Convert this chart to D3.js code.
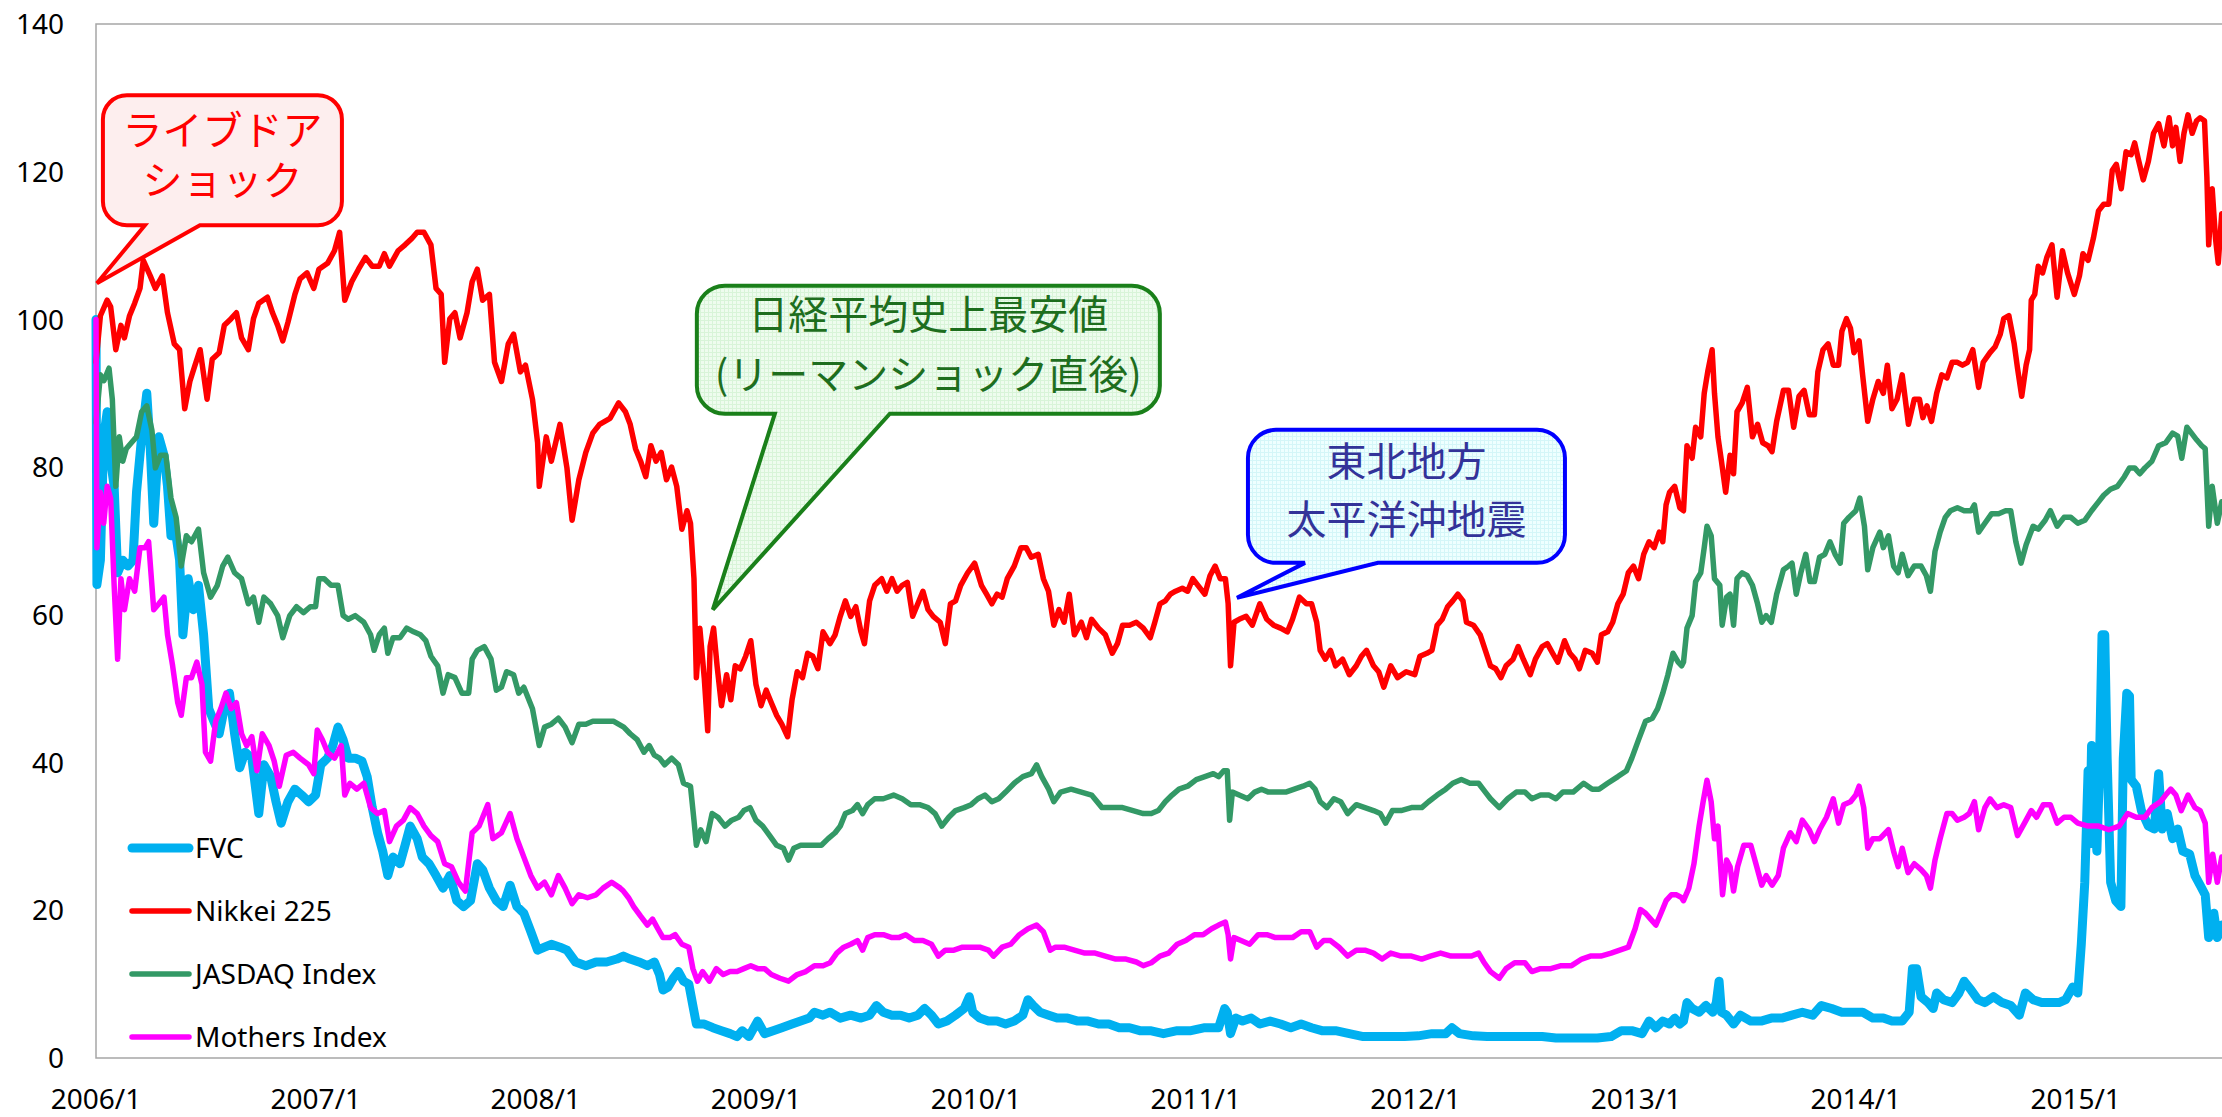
<!DOCTYPE html>
<html>
<head>
<meta charset="utf-8">
<script src="https://cdn.jsdelivr.net/npm/d3@7"></script>
<style>
    html, body { margin: 0; padding: 0; background: #fff; }
    #chart { width: 2222px; height: 1117px; }
</style>
</head>
<body>
<div id="chart"></div>
<script>
// values: [months since 2006/1, index value]
const seriesNames = ['FVC', 'Nikkei 225', 'JASDAQ Index', 'Mothers Index'];
const seriesColors = ['#00B0F0', '#FF0000', '#339966', '#FF00FF'];

const fvc = [[0,100],[0.05,64.1],[0.24,67.4],[0.42,84.1],[0.61,87.5],[0.8,80.8],[0.99,77.4],[1.18,65.7],[1.46,67.4],[1.74,66.6],[2.02,67.4],[2.21,76.6],[2.49,84.1],[2.77,90],[2.96,82.5],[3.15,72.4],[3.43,84.1],[3.71,81.6],[3.9,77.4],[4.09,70.7],[4.27,72.4],[4.56,67.4],[4.74,57.3],[5.03,64.9],[5.31,60.7],[5.59,64],[5.87,57.3],[6.15,47.3],[6.43,45.6],[6.72,43.9],[7,47.3],[7.28,49.4],[7.56,43.9],[7.84,39.3],[8.13,41.4],[8.5,40.6],[8.88,33.1],[9.16,39.7],[9.53,38.1],[9.82,34.7],[10.1,31.8],[10.47,34.7],[10.85,36.4],[11.22,35.6],[11.6,34.7],[11.98,35.6],[12.26,39.7],[12.63,40.6],[12.92,42.3],[13.2,44.8],[13.48,43.1],[13.76,40.6],[14.14,40.6],[14.51,40.2],[14.79,38.1],[15.07,33.9],[15.36,30.5],[15.64,28],[15.92,24.7],[16.2,27.2],[16.58,26.3],[16.86,28.8],[17.14,31.4],[17.52,29.7],[17.8,27.2],[18.17,26.3],[18.55,24.7],[18.93,23],[19.3,24.7],[19.68,21.3],[20.05,20.5],[20.43,21.3],[20.8,26.3],[21.09,25.5],[21.46,23],[21.84,21.3],[22.21,20.5],[22.59,23.4],[22.96,20.5],[23.34,19.6],[23.72,17.1],[24.09,14.6],[24.47,15],[24.84,15.4],[25.31,15],[25.69,14.6],[26.16,13],[26.72,12.5],[27.28,13],[27.85,13],[28.41,13.4],
    [28.77,13.8],[29.14,13.4],[29.61,13],[30.08,12.5],[30.46,13],[30.74,11.3],[30.93,9.2],[31.21,9.6],[31.49,10.8],[31.77,11.7],[32.05,10.4],[32.34,10],[32.56,7.1],[32.75,4.6],[33.18,4.6],[33.65,4.1],[34.12,3.7],[34.59,3.3],[34.97,2.9],[35.25,3.7],[35.62,2.9],[36.09,5],[36.47,3.3],[36.94,3.7],[37.41,4.1],[37.97,4.6],[38.44,5],[38.91,5.4],[39.19,6.2],[39.66,5.8],[40.04,6.2],[40.6,5.4],[41.17,5.8],[41.73,5.4],[42.2,5.8],[42.57,7.1],[42.95,6.2],[43.42,5.8],[43.89,5.8],[44.36,5.4],[44.83,5.8],[45.2,6.7],[45.58,5.8],[45.95,4.6],[46.42,5],[46.89,5.8],[47.36,6.7],[47.64,8.3],[47.83,6.2],[48.21,5.4],[48.68,5],[49.15,5],[49.62,4.6],[50.09,5],[50.56,5.8],[50.84,7.9],[51.12,7.1],[51.5,6.2],[51.97,5.8],[52.43,5.4],[53,5.4],[53.56,5],[54.12,5],[54.69,4.6],[55.25,4.6],[55.82,4.1],[56.38,4.1],[56.94,3.7],[57.51,3.7],
    [58.23,3.3],[58.98,3.7],[59.73,3.7],[60.49,4.1],[61.24,4.1],[61.57,6.7],[61.71,6.2],[61.89,3.3],[62.18,5.4],[62.55,5],[63.02,5.4],[63.49,4.6],[64.05,5],[64.62,4.6],[65.18,4.1],[65.74,4.6],[66.31,4.1],[66.87,3.7],[67.62,3.7],[68.37,3.3],[69.13,2.9],[69.88,2.9],[70.63,2.9],[71.38,2.9],[72.13,3],[72.88,3.3],[73.63,3.3],[73.97,4.1],[74.38,3.3],[75.14,3],[75.89,2.9],[76.64,2.9],[77.39,2.9],[78.14,2.9],[78.89,2.9],[79.64,2.7],[80.4,2.7],[81.15,2.7],[81.9,2.7],[82.65,2.9],[83.21,3.7],[83.78,3.7],[84.34,3.3],[84.72,5],[85.09,4.1],[85.47,5],[85.84,4.6],[86.12,5.4],[86.4,4.6],
    [86.6,5],[86.79,7.5],[87.07,6.7],[87.45,6.2],[87.82,7.1],[88.2,6.2],[88.39,7.5],[88.54,10.4],[88.67,6.2],[88.95,5.8],[89.33,4.6],[89.7,5.8],[90.27,5],[90.83,5],[91.39,5.4],[91.96,5.4],[92.52,5.8],[93.08,6.2],[93.65,5.8],[94.12,7.1],[94.68,6.7],[95.24,6.2],[95.81,6.2],[96.37,6.2],[96.93,5.4],[97.5,5.4],[97.97,5],[98.53,5],[98.91,6.2],[99.09,12.1],[99.32,12.1],[99.56,8.3],[99.94,7.5],[100.22,6.7],[100.41,8.8],[100.79,7.9],[101.25,7.5],[101.63,8.8],[101.91,10.4],[102.29,9.2],[102.66,7.9],[103.04,7.5],[103.51,8.3],[103.98,7.5],[104.45,7.1],[104.92,5.8],[105.25,8.8],[105.67,7.9],[106.14,7.5],[106.61,7.5],[107.08,7.5],[107.45,7.9],[107.83,9.6],[108.11,8.8],[108.3,15.4],[108.49,23.8],[108.67,38.9],[108.76,29],[108.86,42.3],[108.95,30],[109.05,32.2],[109.15,28],[109.27,37.2],[109.43,57.3],[109.58,57.3],[109.71,40.6],[109.9,23.8],[110.18,21.3],[110.46,20.5],[110.59,40.6],[110.78,49.4],[110.93,49],[111.02,37.7],[111.3,36.8],[111.58,33.5],[111.96,31.4],[112.28,31],[112.52,38.5],[112.71,31],[112.99,33.1],[113.28,29.7],[113.56,31],[113.84,28],[114.21,27.6],[114.5,24.7],[114.78,23.4],[115.06,22.1],[115.25,16.3],[115.53,19.6],[115.72,16.3],[115.96,18]];

const nikkei = [[0,94.2],[0.24,100.5],[0.61,102.6],[0.8,101.7],[1.08,95.9],[1.36,99.2],[1.55,97.5],[1.83,100.5],[2.11,102.2],[2.4,104.2],[2.58,108],[2.96,105.9],[3.24,104.2],[3.62,105.9],[3.9,100.9],[4.27,96.7],[4.56,95.9],[4.84,87.9],[5.12,91.6],[5.4,93.8],[5.68,95.9],[6.06,89.2],[6.34,94.6],[6.72,95.5],[7,99.2],[7.37,100.1],[7.66,100.9],[7.94,97.5],[8.31,95.9],[8.59,100.1],[8.88,102.2],[9.35,103],[9.63,100.9],[9.91,99.2],[10.19,97.1],[10.47,99.6],[10.85,103.4],[11.13,105.5],[11.51,106.3],[11.88,104.2],[12.16,106.8],[12.63,107.6],[13.01,109.3],[13.29,111.8],[13.57,102.6],[13.95,105.1],[14.32,106.8],[14.7,108.4],[15.07,107.2],[15.45,107.2],[15.73,108.9],[16.01,107.2],[16.48,109.3],[16.86,110.1],[17.24,111],[17.52,111.8],[17.89,111.8],[18.27,110.1],[18.55,104.2],[18.83,103.4],[19.02,94.2],[19.3,100.1],[19.58,100.9],[19.86,97.5],[20.24,100.9],[20.52,105.1],[20.8,106.8],[21.09,102.6],[21.46,103.4],[21.74,94.2],[22.12,91.6],[22.49,96.7],[22.78,98],[23.15,92.9],[23.43,93.8],[23.81,89.2],[24.09,83.3],[24.18,77.4],[24.56,84.1],[24.84,80.8],[25.31,85.8],[25.69,79.9],[25.97,72.8],[26.34,78.3],[26.72,82],[27.1,84.6],[27.47,85.8],[28.04,86.6],[28.51,88.7],[28.88,87.5],
    [29.14,85.8],[29.43,82.5],[29.71,80.8],[29.99,78.7],[30.27,82.9],[30.55,80.8],[30.83,82],[31.12,78.3],[31.4,80],[31.68,77.4],[31.96,71.6],[32.24,74.1],[32.43,72.4],[32.62,64.9],[32.75,51.5],[32.94,58.2],[33.18,51.5],[33.37,44.3],[33.5,55.7],[33.69,58.2],[33.88,53.1],[34.12,47.7],[34.4,51.9],[34.63,48.5],[34.87,53.1],[35.15,52.7],[35.44,54.4],[35.72,56.5],[36,50.6],[36.28,47.7],[36.56,49.8],[36.84,48.1],[37.13,46.4],[37.41,45.2],[37.73,43.5],[37.97,48.5],[38.25,52.3],[38.54,51.5],[38.82,54.8],[39.1,54.4],[39.38,52.7],[39.66,57.7],[40.04,56.1],[40.32,57.3],[40.6,59.8],[40.88,61.9],[41.17,59.8],[41.45,61.1],[41.73,57.7],[41.92,56.1],[42.2,61.9],[42.48,64],[42.86,64.9],[43.14,63.2],[43.42,64.9],[43.7,63.2],[43.98,64],[44.26,64.4],[44.55,59.8],[44.83,61.5],[45.11,63.2],[45.39,60.7],[45.67,59.8],[46.05,59],[46.33,56.1],[46.61,61.5],[46.89,61.9],[47.17,64],[47.55,65.7],[47.93,67],[48.3,64],[48.58,62.8],[48.87,61.5],[49.15,62.8],[49.43,62.4],[49.71,64.9],[50.09,66.6],[50.46,69.1],[50.74,69.1],[51.02,67.8],[51.4,68.2],[51.68,64.9],[51.96,63.2],[52.25,58.6],[52.53,60.7],[52.81,59],[53.09,62.8],[53.37,57.3],[53.75,59],[54.03,56.9],[54.31,59.4],[54.69,58.2],[55.06,57.3],[55.44,54.8],[55.72,56.1],[56,58.6],[56.38,58.6],[56.75,59],[57.13,58.2],[57.51,56.9],
    [57.76,59],[58.04,61.5],[58.33,61.9],[58.61,62.8],[58.89,63.2],[59.26,63.6],[59.55,63.2],[59.83,64.9],[60.11,64],[60.49,62.8],[60.77,65.3],[61.05,66.6],[61.33,64.9],[61.61,64.9],[61.76,61.5],[61.89,53.1],[62.08,59],[62.36,59.4],[62.74,59.8],[63.08,58.6],[63.49,61.5],[63.87,59.4],[64.24,58.6],[64.62,58.2],[64.99,57.7],[65.27,59.4],[65.65,62.4],[66.03,61.5],[66.31,61.5],[66.59,59],[66.78,55.2],[67.06,54],[67.34,55.2],[67.62,53.1],[68,54],[68.37,51.9],[68.75,53.1],[69.03,54.4],[69.31,55.2],[69.69,53.1],[69.97,52.3],[70.25,50.2],[70.63,53.1],[71,51.5],[71.47,52.3],[71.94,51.9],[72.22,54.4],[72.6,54.8],[72.88,55.2],[73.16,58.6],[73.44,59.4],[73.73,61.1],[74.01,61.9],[74.29,62.8],[74.57,61.9],[74.76,59],[75.14,58.6],[75.51,57.3],[75.79,55.2],[76.07,53.1],[76.36,52.7],[76.64,51.5],[76.92,53.1],[77.3,54],[77.58,55.7],[77.86,54],[78.24,51.9],[78.52,54],[78.89,55.7],[79.17,56.1],[79.46,54.8],[79.74,53.6],[80.11,56.5],[80.4,54.8],[80.68,54],[80.92,52.7],[81.24,55.2],[81.62,54.8],[81.9,53.6],[82.12,57.3],[82.46,57.7],[82.74,59],[83.02,61.5],[83.31,62.8],[83.59,65.7],[83.87,66.6],[84.15,64.9],[84.43,68.2],[84.72,69.9],[85,69.1],[85.28,71.2],[85.47,69.9],[85.65,74.9],[85.84,76.6],[86.12,77.4],[86.4,74.5],
    [86.6,74.1],[86.79,82.9],[87.07,81.2],[87.26,85.4],[87.54,84.1],[87.73,90],[87.92,92.9],[88.16,95.9],[88.29,90],[88.48,84.1],[88.67,80.8],[88.9,76.6],[89.14,81.6],[89.33,79.1],[89.52,87.5],[89.8,88.7],[90.08,90.8],[90.36,84.1],[90.64,85.8],[90.92,83.3],[91.21,82.9],[91.43,82.1],[91.68,86.2],[92.05,90.4],[92.33,90.4],[92.61,85.4],[92.9,89.6],[93.18,90.4],[93.46,87.1],[93.74,87.1],[93.93,92.9],[94.21,95.9],[94.49,96.7],[94.77,93.8],[95.06,93.8],[95.24,98.4],[95.49,100.1],[95.71,98.8],[95.9,95.5],[96.18,97.1],[96.37,92.5],[96.65,86.2],[96.93,89.2],[97.22,91.6],[97.5,90],[97.72,93.8],[97.97,87.9],[98.25,89.2],[98.53,92.5],[98.87,85.8],[99.19,89.2],[99.47,89.2],[99.66,86.7],[99.88,88.3],[100.13,86.2],[100.41,90],[100.69,92.5],[100.97,92.1],[101.25,94.2],[101.54,94.2],[101.82,93.8],[102.1,94.2],[102.38,95.9],[102.7,90.8],[102.95,94.2],[103.32,95.5],[103.6,96.3],[103.88,98],[104.07,100.1],[104.35,100.5],[104.64,96.7],[104.82,93.4],[105.05,89.6],[105.29,93.8],[105.48,95.9],[105.57,102.6],[105.76,103.4],[105.95,107.2],[106.19,106.3],[106.42,108.4],[106.7,110.1],[106.98,103],[107.27,109.3],[107.55,106.3],[107.92,103.4],[108.2,105.9],[108.39,108.9],[108.67,108],[108.96,111],[109.24,114.7],[109.52,115.6],[109.8,115.6],[109.99,120.2],[110.21,121],[110.48,117.7],[110.74,122.7],[111.02,122.3],[111.21,123.9],[111.4,121.8],[111.68,118.9],[111.96,121.4],[112.24,125.2],[112.52,126.5],[112.81,123.5],[113.09,127.3],[113.28,123.5],[113.46,126],[113.69,121.4],[113.9,125.2],[114.12,127.7],[114.35,125.2],[114.59,126.9],[114.78,127.3],[115.02,126.9],[115.15,119.3],[115.25,110.1],[115.44,117.7],[115.62,111],[115.77,107.6],[115.96,114.3]];

const jasdaq = [[0,86],[0.24,92.5],[0.43,91.7],[0.71,93.4],[0.89,89.2],[1.08,77.4],[1.27,84.1],[1.46,80.8],[1.65,82.5],[1.93,83.3],[2.21,84.1],[2.49,87.5],[2.77,88.3],[3.05,85],[3.24,79.9],[3.52,81.6],[3.81,81.6],[4.09,75.8],[4.37,73.2],[4.65,66.6],[4.93,70.7],[5.21,69.9],[5.59,71.6],[5.87,65.7],[6.25,62.4],[6.62,64],[6.91,66.6],[7.19,67.8],[7.56,65.7],[7.94,64.9],[8.31,61.5],[8.59,62.4],[8.88,59],[9.16,62.4],[9.53,61.5],[9.91,59.9],[10.19,56.9],[10.57,59.9],[10.94,61.1],[11.32,60.3],[11.69,61.1],[11.98,61.1],[12.16,64.9],[12.45,64.9],[12.82,64],[13.2,64],[13.48,59.9],[13.76,59.4],[14.14,59.9],[14.61,59],[14.98,57.3],[15.17,55.2],[15.45,57.3],[15.73,58.2],[15.92,54.8],[16.2,56.9],[16.58,56.9],[16.95,58.2],[17.33,57.7],[17.7,57.3],[17.99,56.5],[18.27,54.4],[18.64,53.1],[18.93,49.4],[19.21,51.9],[19.58,51.5],[19.96,49.4],[20.33,49.4],[20.52,54],[20.8,55.2],[21.18,55.7],[21.55,54],[21.84,49.8],[22.12,50.2],[22.4,52.3],[22.78,51.9],[23.06,49.4],[23.34,50.2],[23.81,47.3],[24.18,42.3],[24.47,44.8],[24.84,45.2],[25.22,46],[25.59,44.8],[25.97,42.7],[26.34,45.2],[26.72,45.2],[27.1,45.6],[27.66,45.6],[28.22,45.6],[28.79,44.8],
    [29.14,43.9],[29.52,43.1],[29.89,41.4],[30.18,42.3],[30.46,41],[30.74,40.6],[31.02,39.7],[31.4,40.6],[31.77,39.7],[32.05,37.2],[32.43,36.8],[32.62,32.2],[32.75,28.8],[32.99,30.9],[33.28,29.3],[33.61,33.1],[33.93,32.6],[34.31,31.4],[34.68,32.2],[35.06,32.6],[35.34,33.5],[35.68,33.9],[36,32.2],[36.37,31.4],[36.75,30.1],[37.13,28.8],[37.5,28.4],[37.78,26.8],[38.07,28.4],[38.44,28.8],[38.82,28.8],[39.19,28.8],[39.57,28.8],[39.94,29.7],[40.32,30.5],[40.6,31.4],[40.88,33.1],[41.26,33.5],[41.54,34.3],[41.82,33.1],[42.1,34.3],[42.48,35.1],[42.95,35.1],[43.51,35.6],[43.98,35.1],[44.45,34.3],[44.92,34.3],[45.39,33.9],[45.77,33.1],[46.14,31.4],[46.52,32.6],[46.89,33.5],[47.36,33.9],[47.74,34.3],[48.11,35.1],[48.49,35.6],[48.87,34.7],[49.24,35.1],[49.62,36],[50.09,37.2],[50.56,38.1],[51.03,38.5],[51.31,39.7],[51.59,38.1],[51.97,36.4],[52.25,34.7],[52.62,36],[53.19,36.4],[53.75,36],[54.31,35.6],[54.88,33.9],[55.44,33.9],[56,33.9],[56.57,33.5],[57.13,33.1],
    [57.57,33.1],[57.95,33.5],[58.33,34.7],[58.7,35.6],[59.08,36.4],[59.55,36.8],[60.02,37.7],[60.49,38.1],[60.95,38.5],[61.24,38.1],[61.52,38.9],[61.71,38.9],[61.84,32.2],[61.99,36],[62.36,35.6],[62.83,35.1],[63.21,36],[63.58,36.4],[63.96,36],[64.43,36],[64.9,36],[65.37,36.4],[65.84,36.8],[66.21,37.2],[66.5,36.4],[66.78,34.7],[67.15,33.9],[67.53,35.1],[67.9,34.7],[68.28,33.1],[68.75,34.3],[69.22,33.9],[69.69,33.5],[70.06,33.1],[70.35,31.8],[70.72,33.5],[71.19,33.5],[71.76,33.9],[72.32,33.9],[72.69,34.7],[73.16,35.6],[73.63,36.4],[74.01,37.2],[74.48,37.7],[74.95,37.2],[75.42,37.2],[75.79,36],[76.07,35.1],[76.55,33.9],[77.01,35.1],[77.48,36],[77.95,36],[78.33,35.1],[78.8,35.6],[79.27,35.6],[79.64,35.1],[80.02,36],[80.58,36],[81.15,37.2],[81.62,36.4],[81.99,36.4],[82.46,37.2],[83.02,38.1],[83.49,38.9],[83.78,40.6],[84.15,43.1],[84.53,45.6],[84.9,46],[85.19,47.3],[85.47,49.4],[85.75,51.9],[86.03,54.8],[86.31,53.6],[86.5,53.1],
    [86.6,53.6],[86.79,58.2],[87.07,59.9],[87.26,64.5],[87.54,65.7],[87.73,69.1],[87.88,72],[88.11,70.7],[88.29,64.9],[88.58,64],[88.71,58.6],[88.95,62.4],[89.14,62.8],[89.33,58.6],[89.52,64.9],[89.8,65.7],[90.08,65.3],[90.36,64],[90.64,61.5],[90.87,59],[91.11,59.9],[91.39,59],[91.68,62.8],[92.05,66.1],[92.33,66.6],[92.52,67],[92.75,62.8],[93,65.7],[93.27,68.2],[93.5,64.5],[93.74,64.5],[94.02,67.8],[94.31,68.2],[94.59,69.9],[94.87,68.2],[95.15,67],[95.34,72.4],[95.62,73.2],[96,74.1],[96.22,75.8],[96.47,72],[96.65,66.1],[96.93,69.1],[97.31,71.2],[97.5,69.1],[97.78,70.7],[98.06,66.6],[98.31,65.7],[98.53,68.2],[98.85,65.3],[99.19,66.6],[99.56,66.6],[99.85,65.3],[100.07,63.2],[100.32,68.6],[100.6,71.2],[100.88,73.2],[101.16,74.1],[101.54,74.5],[101.91,74.1],[102.29,74.1],[102.47,74.9],[102.7,71.2],[103.04,72.4],[103.41,73.7],[103.79,73.7],[104.17,74.1],[104.45,74.1],[104.73,69.9],[105.01,67],[105.29,69.5],[105.67,72],[105.95,71.6],[106.33,72.8],[106.61,74.1],[106.98,72],[107.36,73.2],[107.73,73.2],[108.11,72.4],[108.49,72.8],[108.86,74.1],[109.24,75.3],[109.52,76.2],[109.89,77],[110.27,77.4],[110.65,78.7],[110.93,79.9],[111.21,79.9],[111.49,79.1],[111.77,79.9],[112.15,80.8],[112.52,82.9],[112.9,83.3],[113.28,84.6],[113.56,84.2],[113.78,81.2],[114.06,85.4],[114.31,84.6],[114.59,83.7],[114.87,82.9],[115.06,82.5],[115.25,72],[115.44,77.4],[115.72,72.4],[115.96,75.3]];

const mothers = [[0,100],[0.05,69.1],[0.24,76.6],[0.42,72.4],[0.61,77.4],[0.8,75.8],[0.99,64],[1.18,54],[1.36,64.9],[1.55,60.7],[1.83,64.9],[2.11,63.2],[2.4,69.1],[2.68,69.1],[2.87,69.9],[3.15,60.7],[3.43,61.5],[3.71,62.4],[3.9,57.3],[4.18,53.1],[4.46,48.1],[4.65,46.4],[4.93,51.5],[5.21,51.5],[5.5,53.6],[5.78,50.6],[5.97,41.4],[6.25,40.2],[6.53,45.6],[6.81,47.3],[7.09,49.4],[7.37,47.3],[7.66,48.1],[7.94,43.9],[8.22,42.3],[8.5,43.5],[8.78,38.9],[9.07,43.9],[9.44,42.3],[9.72,40.2],[10,36.8],[10.38,41],[10.76,41.4],[11.13,40.6],[11.6,39.7],[11.88,38.5],[12.07,44.4],[12.35,43.1],[12.63,41.4],[13.01,40.6],[13.38,42.3],[13.57,35.6],[13.85,37.2],[14.23,36.4],[14.61,37.2],[14.98,33.9],[15.36,33.1],[15.73,33.5],[16.01,29.3],[16.39,31.4],[16.77,32.2],[17.14,33.9],[17.52,33.1],[17.89,31.4],[18.27,30.1],[18.64,29.3],[19.02,26.3],[19.39,25.9],[19.77,23.8],[20.15,22.6],[20.52,30.5],[20.9,31.4],[21.37,34.3],[21.65,29.7],[22.12,30.5],[22.59,33.1],[22.96,29.7],[23.34,27.2],[23.72,24.7],[24.09,23],[24.47,23.8],[24.84,22.1],[25.22,24.7],[25.59,23],[25.97,20.9],[26.34,22.1],[26.81,21.7],[27.28,22.1],[27.66,23],[28.13,23.8],[28.6,23],
    [28.77,22.6],[29.05,21.7],[29.33,20.5],[29.71,19.2],[30.08,18],[30.36,18.8],[30.65,17.5],[30.93,16.3],[31.3,16.3],[31.59,16.7],[31.96,15.4],[32.34,15],[32.56,12.1],[32.81,10.4],[33.09,11.7],[33.46,10.4],[33.84,12.1],[34.22,11.3],[34.59,11.7],[34.97,11.7],[35.34,12.1],[35.72,12.5],[36.09,12.1],[36.47,12.1],[36.84,11.3],[37.31,10.8],[37.78,10.4],[38.25,11.3],[38.72,11.7],[39.19,12.5],[39.66,12.5],[40.04,12.9],[40.41,14.2],[40.79,15],[41.17,15.4],[41.54,15.9],[41.82,14.6],[42.1,16.3],[42.48,16.7],[42.95,16.7],[43.42,16.3],[43.79,16.3],[44.17,16.7],[44.64,15.9],[45.11,15.9],[45.58,15.4],[45.95,13.8],[46.33,14.6],[46.8,14.6],[47.27,15],[47.74,15],[48.21,15],[48.68,14.6],[48.96,13.8],[49.43,15],[49.9,15.4],[50.37,16.7],[50.84,17.5],[51.31,18],[51.68,17.1],[52.06,14.6],[52.34,15],[52.81,15],[53.37,14.6],[53.94,14.2],[54.5,14.2],[55.06,13.8],[55.63,13.4],[56.19,13.4],[56.75,13],[57.13,12.5],
    [57.57,12.9],[58.04,13.8],[58.51,14.2],[58.98,15.4],[59.45,15.9],[59.92,16.7],[60.39,16.7],[60.86,17.5],[61.24,18],[61.61,18.4],[61.76,16.7],[61.89,13.4],[62.08,16.3],[62.46,15.9],[62.93,15.4],[63.4,16.7],[63.87,16.7],[64.34,16.3],[64.81,16.3],[65.27,16.3],[65.74,17.1],[66.21,17.1],[66.59,15],[66.97,15.9],[67.34,15.9],[67.81,15],[68.28,13.8],[68.75,14.6],[69.22,14.6],[69.69,14.2],[70.16,13.4],[70.63,14.2],[71.19,13.8],[71.76,13.8],[72.32,13.4],[72.79,13.8],[73.35,14.2],[73.92,13.8],[74.48,13.8],[75.04,13.8],[75.42,14.2],[75.7,13],[76.07,11.7],[76.55,10.8],[76.92,12.1],[77.39,12.9],[77.95,12.9],[78.33,11.7],[78.8,12.1],[79.36,12.1],[79.93,12.5],[80.49,12.5],[81.05,13.4],[81.52,13.8],[82.09,13.8],[82.65,14.2],[83.12,14.6],[83.59,15],[83.96,17.5],[84.25,20.1],[84.53,19.6],[84.81,18.8],[85.09,18],[85.37,19.6],[85.65,21.3],[85.94,22.1],[86.22,22.1],[86.5,21.7],
    [86.6,21.3],[86.89,23],[87.17,26.3],[87.45,31.4],[87.67,34.7],[87.88,37.6],[88.11,34.7],[88.29,29.7],[88.48,31.4],[88.73,22.1],[88.95,26.8],[89.14,25.9],[89.33,22.6],[89.55,25.9],[89.89,28.8],[90.27,28.8],[90.55,26.3],[90.87,23.4],[91.11,24.7],[91.43,23.4],[91.77,24.7],[92.05,28.4],[92.43,30.5],[92.75,29.3],[93.08,32.2],[93.46,30.9],[93.74,29.3],[94.02,30.9],[94.4,32.6],[94.77,35.1],[95.06,31.8],[95.34,34.3],[95.71,34.7],[96,35.6],[96.18,36.8],[96.43,33.9],[96.65,28.4],[96.93,29.7],[97.31,29.7],[97.78,30.9],[98.06,28],[98.31,25.9],[98.53,28.4],[98.85,25.1],[99.19,26.3],[99.56,25.5],[99.85,24.7],[100.07,23],[100.32,26.8],[100.6,29.7],[100.97,33.1],[101.25,33.1],[101.54,32.2],[101.91,32.6],[102.19,33.1],[102.47,34.7],[102.7,30.9],[103.04,33.9],[103.32,35.1],[103.7,33.9],[104.07,34.3],[104.45,33.9],[104.82,30.1],[105.2,31.8],[105.57,33.5],[105.86,32.6],[106.23,34.3],[106.61,34.3],[106.98,31.8],[107.36,32.6],[107.73,32.6],[108.11,31.8],[108.67,31.4],[109.24,31.4],[109.8,30.9],[110.37,31.4],[110.83,33.1],[111.3,32.6],[111.77,32.6],[112.15,33.9],[112.62,34.7],[112.9,35.6],[113.18,36.4],[113.46,35.6],[113.75,33.5],[114.12,35.6],[114.5,33.9],[114.78,33.5],[115.06,31.8],[115.25,23.8],[115.47,27.6],[115.72,23.8],[115.96,27.2]];

const yTicks = [0, 20, 40, 60, 80, 100, 120, 140];
const xTickYears = [2006, 2007, 2008, 2009, 2010, 2011, 2012, 2013, 2014, 2015];

// callout texts and the point each one points at [months, value]
const calloutTexts = [['ライブドア', 'ショック'], ['日経平均史上最安値', '(リーマンショック直後)'], ['東北地方', '太平洋沖地震']];
const calloutAnchors = [[0.05, 104.9], [33.65, 60.7], [62.24, 62.3]];

class IndexChart {

    constructor(parentElement) {
        this.parentElement = d3.select(parentElement);
        this.width = 2222;
        this.height = 1117;
        this.plot = { left: 96, right: 2222, top: 24, bottom: 1058 };
        this.render();
    }

    monthToDate(m) {
        return new Date(new Date(2006, 0, 1).getTime() + m * 30.4375 * 864e5);
    }

    render() {
        const svg = this.parentElement.append('svg')
            .attr('width', this.width)
            .attr('height', this.height)
            .style('background', '#fff');

        const x = d3.scaleTime()
            .domain([new Date(2006, 0, 1), new Date(2015, 8, 1)])
            .range([this.plot.left, this.plot.right]);
        const y = d3.scaleLinear()
            .domain([0, 140])
            .range([this.plot.bottom, this.plot.top]);

        const defs = svg.append('defs');
        const grid = (id, base, lineColor) => {
            const p = defs.append('pattern')
                .attr('id', id)
                .attr('width', 4).attr('height', 4)
                .attr('patternUnits', 'userSpaceOnUse');
            p.append('rect').attr('width', 4).attr('height', 4).attr('fill', base);
            p.append('path').attr('d', 'M0,0.5H4M0.5,0V4')
                .attr('stroke', lineColor).attr('stroke-width', 1);
        };
        grid('gridGreen', '#EEFCEE', '#D8F4D8');
        grid('gridBlue', '#EEFFFF', '#D4F6F8');

        // plot frame (left, top, bottom)
        svg.append('path')
            .attr('d', `M${this.plot.right},${this.plot.top}H${this.plot.left}V${this.plot.bottom}H${this.plot.right}`)
            .attr('fill', 'none')
            .attr('stroke', '#A6A6A6')
            .attr('stroke-width', 1.5);

        const tickFont = '"Noto Sans", "Open Sans", sans-serif';

        svg.append('g')
            .attr('class', 'y-labels')
            .selectAll('text')
            .data(yTicks)
            .enter().append('text')
            .attr('x', 64)
            .attr('y', d => y(d))
            .attr('dy', '0.36em')
            .attr('text-anchor', 'end')
            .style('font-family', tickFont)
            .style('font-size', '28px')
            .style('fill', '#000')
            .text(d => d);

        svg.append('g')
            .attr('class', 'x-labels')
            .selectAll('text')
            .data(xTickYears.map(yr => new Date(yr, 0, 1)))
            .enter().append('text')
            .attr('x', d => x(d))
            .attr('y', 1099)
            .attr('dy', '0.36em')
            .attr('text-anchor', 'middle')
            .style('font-family', tickFont)
            .style('font-size', '28px')
            .style('fill', '#000')
            .text(d => d.getFullYear() + '/' + (d.getMonth() + 1));

        const line = d3.line()
            .x(d => x(this.monthToDate(d[0])))
            .y(d => y(d[1]));

        const allSeries = [fvc, nikkei, jasdaq, mothers];
        const widths = [9, 5.5, 5.5, 5.5];

        svg.append('g')
            .attr('class', 'lines')
            .selectAll('path')
            .data(allSeries)
            .enter().append('path')
            .attr('d', d => line(d))
            .attr('fill', 'none')
            .attr('stroke', (d, i) => seriesColors[i])
            .attr('stroke-width', (d, i) => widths[i])
            .attr('stroke-linejoin', 'round')
            .attr('stroke-linecap', 'round');

        // legend
        const legend = svg.append('g')
            .attr('class', 'legend')
            .selectAll('g')
            .data(seriesNames)
            .enter().append('g')
            .attr('transform', (d, i) => `translate(0, ${848 + i * 63})`);

        legend.append('line')
            .attr('x1', 132).attr('x2', 189)
            .attr('stroke', (d, i) => seriesColors[i])
            .attr('stroke-width', (d, i) => widths[i])
            .attr('stroke-linecap', 'round');

        legend.append('text')
            .attr('x', 195)
            .attr('dy', '0.36em')
            .style('font-family', tickFont)
            .style('font-size', '28px')
            .style('fill', '#000')
            .text(d => d);

        // callouts: box and tail offsets are relative to the tip
        const calloutStyle = [
            { box: [6, 245, -188, -58], tail: [48, 103], lines: [-153, -103], r: 24,
              stroke: '#FF0000', fill: '#FDEEEE', color: '#FF0000' },
            { box: [-16, 447, -324, -196], tail: [62, 177], lines: [-295, -235], r: 28,
              stroke: '#1A801A', fill: 'url(#gridGreen)', color: '#1E6E1E' },
            { box: [11, 328, -168, -35], tail: [68, 141], lines: [-136, -78], r: 28,
              stroke: '#0000FF', fill: 'url(#gridBlue)', color: '#333399' },
        ];

        const calloutPath = (tx, ty, s) => {
            const [bx0, bx1, by0, by1] = s.box;
            const x0 = tx + bx0, x1 = tx + bx1, y0 = ty + by0, y1 = ty + by1;
            const r = s.r;
            return `M${x0 + r},${y0}H${x1 - r}A${r},${r} 0 0 1 ${x1},${y0 + r}` +
                `V${y1 - r}A${r},${r} 0 0 1 ${x1 - r},${y1}` +
                `H${tx + s.tail[1]}L${tx},${ty}L${tx + s.tail[0]},${y1}` +
                `H${x0 + r}A${r},${r} 0 0 1 ${x0},${y1 - r}` +
                `V${y0 + r}A${r},${r} 0 0 1 ${x0 + r},${y0}Z`;
        };

        const callout = svg.append('g')
            .attr('class', 'callouts')
            .selectAll('g')
            .data(calloutAnchors)
            .enter().append('g');

        callout.append('path')
            .attr('d', (d, i) => calloutPath(x(this.monthToDate(d[0])), y(d[1]), calloutStyle[i]))
            .attr('fill', (d, i) => calloutStyle[i].fill)
            .attr('stroke', (d, i) => calloutStyle[i].stroke)
            .attr('stroke-width', 4)
            .attr('stroke-linejoin', 'miter');

        callout.each(function(d, i) {
            const s = calloutStyle[i];
            const tx = x(IndexChart.prototype.monthToDate(d[0]));
            const ty = y(d[1]);
            const cx = tx + (s.box[0] + s.box[1]) / 2;
            d3.select(this).selectAll('text')
                .data(calloutTexts[i])
                .enter().append('text')
                .attr('x', cx)
                .attr('y', (t, j) => ty + s.lines[j])
                .attr('dy', '0.36em')
                .attr('text-anchor', 'middle')
                .style('font-family', '"Noto Sans CJK JP", sans-serif')
                .style('font-size', '40px')
                .style('fill', s.color)
                .text(t => t);
        });
    }
}

new IndexChart('#chart');
</script>
</body>
</html>
